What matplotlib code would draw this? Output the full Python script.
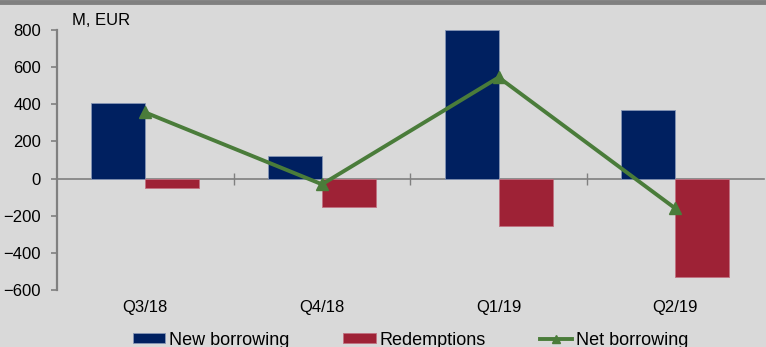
import matplotlib
matplotlib.use("Agg")
import matplotlib.pyplot as plt
import matplotlib.transforms as mtransforms
from matplotlib.lines import Line2D
import numpy as np

plt.rcParams['font.family'] = ['Liberation Sans', 'DejaVu Sans']

quarters = ["Q3/18", "Q4/18", "Q1/19", "Q2/19"]
new_borrowing = [407, 122, 800, 369]
redemptions = [-51, -153, -255, -530]
net_borrowing = [356, -31, 545, -161]

navy = "#002060"
red = "#9e2236"
green = "#4a7c3a"
grey = "#808080"
bg = "#d9d9d9"

fig = plt.figure(figsize=(7.66, 3.47), dpi=100, facecolor=bg)
ax = fig.add_axes([0.0744, 0.1643, 0.9226, 0.7492])
ax.set_facecolor(bg)

x = np.arange(len(quarters))
w = 0.306
b1 = ax.bar(x - w / 2, new_borrowing, w, color=navy, edgecolor="#8595b5",
            linewidth=0.6, label="New borrowing", zorder=2)
b2 = ax.bar(x + w / 2, redemptions, w, color=red, edgecolor="#c07080",
            linewidth=0.6, label="Redemptions", zorder=2)
ln, = ax.plot(x, net_borrowing, color=green, lw=2.8, marker="^", ms=8,
              label="Net borrowing", zorder=3)

ax.set_xlim(-0.5, 3.5)
ax.set_ylim(-600, 800)
ax.set_yticks(np.arange(-600, 801, 200))

for s in ("top", "right"):
    ax.spines[s].set_visible(False)
ax.spines["left"].set_color(grey)
ax.spines["left"].set_linewidth(1.6)
ax.spines["bottom"].set_position(("data", 0))
ax.spines["bottom"].set_color(grey)
ax.spines["bottom"].set_linewidth(1.2)
ax.spines["bottom"].set_zorder(1)

ax.tick_params(axis="y", direction="out", length=4.5, width=1.2, color=grey,
               labelsize=12, pad=7)
ax.set_xticks([0.5, 1.5, 2.5])
ax.set_xticklabels([])
ax.tick_params(axis="x", direction="inout", length=8, width=1, color=grey)

trans = mtransforms.blended_transform_factory(ax.transData, ax.transAxes)
for xi, q in zip(x, quarters):
    ax.text(xi, -0.085, q, transform=trans, ha="center", va="baseline", fontsize=12)

ax.text(0.021, 1.038, "M, EUR", transform=ax.transAxes, ha="left", va="center",
        fontsize=12)

# grey rule along the top edge
fig.add_artist(Line2D([0, 1], [0.995, 0.995], transform=fig.transFigure,
                      color=grey, lw=3.5))

leg = ax.legend([b1, b2, ln], ["New borrowing", "Redemptions", "Net borrowing"],
                loc="center", bbox_to_anchor=(0.536, 0.02),
                bbox_transform=fig.transFigure, ncol=3, frameon=False,
                fontsize=13, handlelength=1.8, handleheight=0.45,
                handletextpad=0.2, columnspacing=3.0, markerscale=0.75)

fig.savefig("out.png", dpi=100, facecolor=bg)
